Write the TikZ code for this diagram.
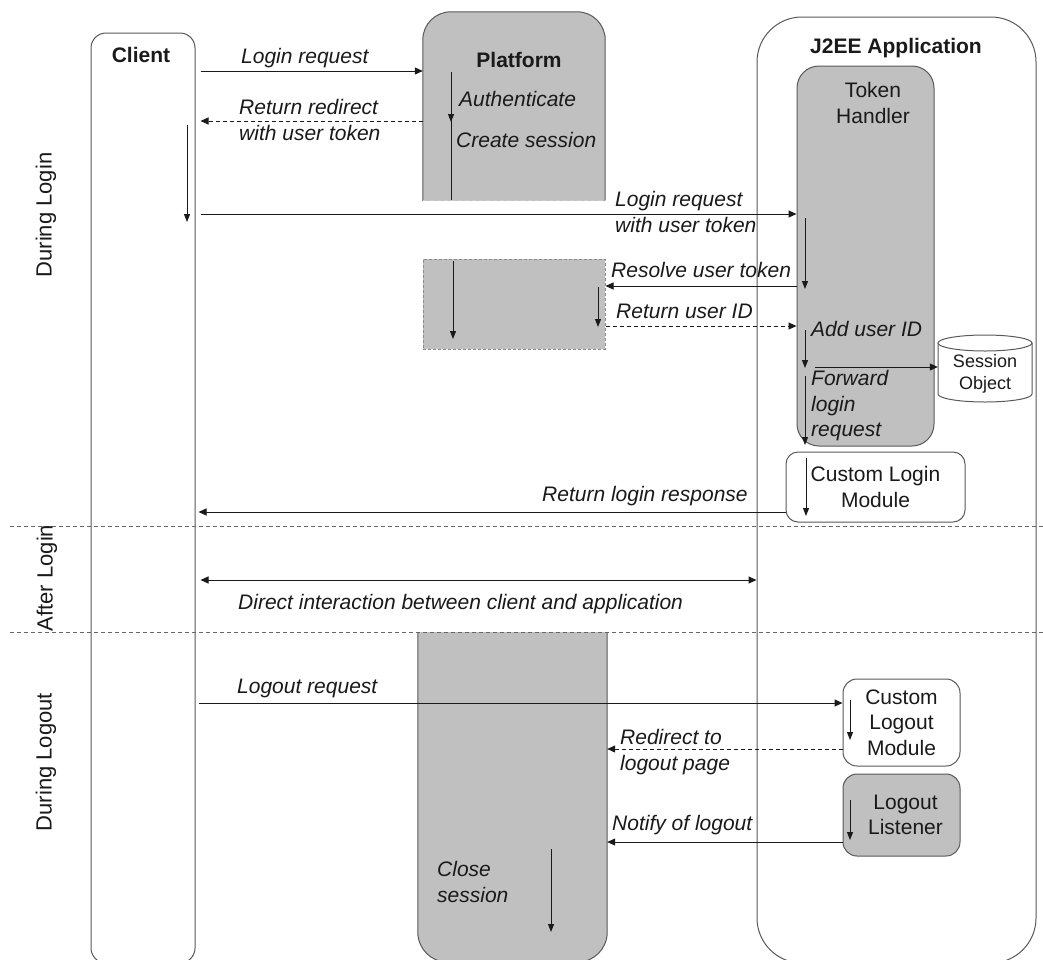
\documentclass[tikz,border=0pt]{standalone}
\usepackage{fontspec}
\setmainfont{Liberation Sans}
\usetikzlibrary{arrows.meta}
\definecolor{boxgray}{HTML}{C0C0C0}
\definecolor{edge}{HTML}{595959}
\definecolor{ink}{HTML}{1A1A1A}
\tikzset{
 lbl/.style={font=\fontsize{21}{25.5}\selectfont\itshape, anchor=west, inner sep=0pt, align=left, text=ink},
 ttl/.style={font=\fontsize{21}{26}\selectfont\bfseries, inner sep=0pt, text=ink},
 txt/.style={font=\fontsize{21}{25.5}\selectfont, inner sep=0pt, align=center, text=ink},
 phase/.style={font=\fontsize{22}{26}\selectfont, inner sep=0pt, rotate=90, text=ink},
 msg/.style={line width=1pt, draw=ink, -{Triangle[length=8pt,width=7pt]}},
 ret/.style={msg, dash pattern=on 4pt off 3pt},
 both/.style={line width=1pt, draw=ink, {Triangle[length=8pt,width=7pt]}-{Triangle[length=8pt,width=7pt]}},
 act/.style={line width=1pt, draw=ink, -{Triangle[length=8pt,width=6pt]}},
 plain/.style={line width=1pt, draw=ink},
 lane/.style={draw=edge, line width=1pt},
 sep/.style={draw=black!60, line width=1pt, dash pattern=on 4pt off 3pt},
}
\begin{document}
\begin{tikzpicture}[x=1pt,y=-1pt]
\useasboundingbox (0,0) rectangle (1043,959);
\fill[white] (0,0) rectangle (1043,959);
\clip (0,0) rectangle (1043,959);

% lifeline boxes
\node[lane, rounded corners=15, minimum width=104, minimum height=930] (client) at (143,498) {};
\node[ttl] (clientT) at (141,55) {Client};

\node[lane, rounded corners=45, minimum width=279, minimum height=946] (j2ee) at (896.5,490) {};
\node[ttl] (j2eeT) at (896,48) {J2EE Application};

\node[lane, fill=boxgray, rounded corners=22, minimum width=137, minimum height=380] (th) at (865.5,256) {};
\node[txt] (thT) at (873,103) {Token\\Handler};

% platform (top part)
\node[minimum width=182, minimum height=188, inner sep=0pt] (plat1) at (514,106) {};
\begin{scope}
\clip (400,0) rectangle (630,200);
\draw[lane, fill=boxgray, rounded corners=28] (plat1.north west) rectangle ([yshift=-60pt]plat1.south east);
\end{scope}
\draw[draw=white!80!black, line width=1pt, dash pattern=on 4pt off 3pt] (plat1.south west) -- (plat1.south east);
\node[ttl] (platT) at (519,60) {Platform};

% platform (middle part)
\node[draw=black!45, line width=1pt, dash pattern=on 3pt off 2pt, fill=boxgray, minimum width=182, minimum height=90, inner sep=0pt] (plat2) at (514,304) {};

% platform (bottom part)
\node[minimum width=189, minimum height=330, inner sep=0pt] (plat3) at (512.5,797) {};
\begin{scope}
\clip (400,632) rectangle (630,975);
\draw[lane, fill=boxgray, rounded corners=30] ([yshift=60pt]plat3.north west) rectangle (plat3.south east);
\end{scope}

% small boxes
\node[lane, fill=white, rounded corners=12, minimum width=179, minimum height=70, txt] (clm) at (875.5,487) {Custom Login\\Module};
\node[lane, fill=white, rounded corners=14, minimum width=117, minimum height=87, txt] (clo) at (901.5,722.5) {Custom\\Logout\\Module};
\node[lane, fill=boxgray, rounded corners=14, minimum width=117, minimum height=82, txt] (ll) at (901.5,815) {\hspace*{8pt}Logout\\\hspace*{8pt}Listener};

% session object cylinder
\node[minimum width=94, minimum height=67, inner sep=0pt] (sess) at (985,368) {};
\draw[draw=edge, line width=1pt, fill=white] (938,343) -- (938,394) arc[start angle=180, end angle=0, x radius=47, y radius=8] -- (1032,343);
\draw[draw=edge, line width=1pt, fill=white] (985,343) ellipse[x radius=47, y radius=8];
\node[font=\fontsize{18}{22}\selectfont, align=center, inner sep=0pt, text=ink] (sessT) at (985,374) {Session\\Object};

% phase separators
\coordinate (s1a) at (10,526); \coordinate (s1b) at (1043,526);
\coordinate (s2a) at (10,632); \coordinate (s2b) at (1043,632);
\draw[sep] (s1a) -- (s1b);
\draw[sep] (s2a) -- (s2b);
\node[phase] (ph1) at (46,215) {During Login};
\node[phase] (ph2) at (47,578) {After Login};
\node[phase] (ph3) at (46,762) {During Logout};

% activation arrows
\draw[act] (451,72) -- (451,122);
\draw[plain] (451,118) -- (451,200);
\draw[act] (187,125) -- (187,222);
\draw[act] (805,218) -- (805,289);
\draw[act] (453,261) -- (453,339);
\draw[act] (598,287) -- (598,327);
\draw[act] (805,330) -- (805,368);
\draw[act] (805,376) -- (805,445);
\draw[act] (806,458) -- (806,516);
\draw[act] (850,700) -- (850,740);
\draw[act] (850,800) -- (850,840);
\draw[act] (551,849) -- (551,932);

% messages
\draw[msg] ([xshift=5pt]client.east |- 0,71) -- (plat1.west |- 0,71);
\node[lbl] (m1) at (241,58) {Login request};

\draw[ret] (plat1.west |- 0,121) -- ([xshift=5pt]client.east |- 0,121);
\node[lbl] (m2) at (239,120) {Return redirect\\with user token};
\node[lbl] (a1) at (459,99) {Authenticate};
\node[lbl] (a2) at (456,140) {Create session};

\draw[msg] ([xshift=5pt]client.east |- 0,214) -- (th.west |- 0,214);
\node[lbl] (m3) at (615,212) {Login request\\with user token};

\draw[msg] (th.west |- 0,286) -- (plat2.east |- 0,286);
\node[lbl] (m4) at (611,270) {Resolve user token};

\draw[ret] (plat2.east |- 0,326) -- (th.west |- 0,326);
\node[lbl] (m5) at (616,311) {Return user ID};

\node[lbl] (a3) at (811,329) {Add user ID};
\draw[msg] (815,367) -- (sess.west |- 0,367);
\node[lbl] (a4) at (811,406) {Forward\\login\\request};

\draw[msg] (clm.west |- 0,512) -- ([xshift=3pt]client.east |- 0,512);
\node[lbl] (m6) at (542,496) {Return login response};

\draw[both] ([xshift=5pt]client.east |- 0,580) -- (j2ee.west |- 0,580);
\node[lbl] (m7) at (238,604) {Direct interaction between client and application};

\draw[msg] ([xshift=3pt]client.east |- 0,703) -- (clo.west |- 0,703);
\node[lbl] (m8) at (237,688) {Logout request};

\draw[ret] (clo.west |- 0,749) -- (plat3.east |- 0,749);
\node[lbl] (m9) at (620,752) {Redirect to\\logout page};

\draw[msg] (ll.west |- 0,842) -- (plat3.east |- 0,842);
\node[lbl] (m10) at (612,825) {Notify of logout};

\node[lbl] (a5) at (437,882) {Close\\session};
\end{tikzpicture}
\end{document}
